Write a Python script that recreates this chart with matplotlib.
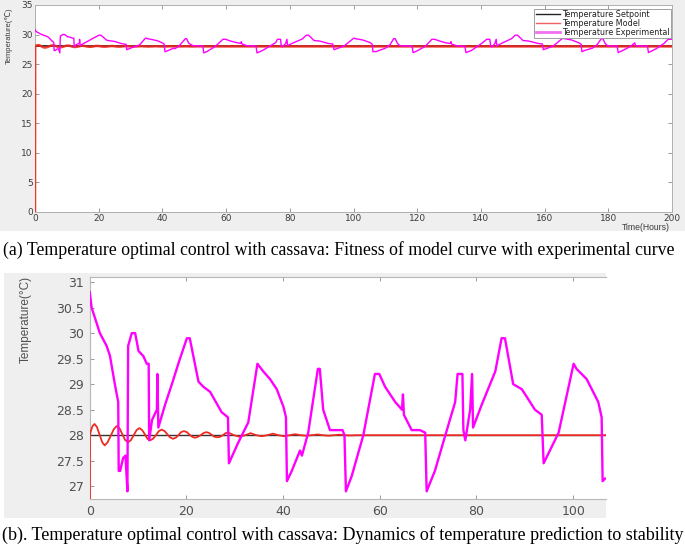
import matplotlib
matplotlib.use("Agg")
import matplotlib.pyplot as plt
from matplotlib.patches import Rectangle

# ---------------- data ----------------
setpoint_t = [0.0, 200.0]
setpoint_v = [28.0, 28.0]

model_t = [0.0, 0.05, 0.3, 0.6, 1.0, 1.5, 2.05, 2.6, 3.1, 3.7, 4.35, 5.0, 5.6, 6.2, 6.75, 7.3,
           7.9, 8.5, 9.1, 9.7, 10.3, 10.85, 11.4, 11.95, 12.5, 13.1, 13.7, 14.3, 14.9, 15.5,
           16.05, 16.6, 17.2, 17.8, 18.35, 18.9, 19.5, 20.1, 20.65, 21.2, 21.8, 22.4, 22.95,
           23.5, 24.1, 24.7, 25.25, 25.8, 26.4, 27.0, 27.55, 28.1, 28.7, 29.85, 31.0, 32.15,
           33.3, 34.45, 35.6, 36.75, 37.9, 39.05, 40.2, 41.35, 42.5, 43.65, 44.8, 45.95, 47.1,
           48.25, 49.4, 50.55, 51.7, 52.85, 54.0, 55.0, 200.0]
model_v = [0.0, 28.0, 28.1, 28.18, 28.22, 28.16, 28.01, 27.86, 27.80, 27.86, 27.99, 28.12, 28.18,
           28.13, 28.02, 27.91, 27.86, 27.90, 28.0, 28.1, 28.14, 28.1, 28.02, 27.93, 27.90, 27.93,
           28.0, 28.08, 28.11, 28.08, 28.02, 27.96, 27.93, 27.95, 28.0, 28.06, 28.08, 28.06, 28.01,
           27.97, 27.95, 27.97, 28.0, 28.04, 28.06, 28.045, 28.005, 27.97, 27.96, 27.97, 28.0,
           28.04, 28.05, 28.0, 27.97, 28.0, 28.04, 28.0, 27.98, 28.0, 28.03, 28.0, 27.98, 28.0,
           28.02, 28.0, 27.99, 28.0, 28.015, 28.0, 27.99, 28.0, 28.01, 28.0, 27.995, 28.0, 28.0]

# experimental curve, first 107 hours (both panels)
exp_t = [0.0, 0.4, 2.1, 3.5, 4.2, 5.2, 5.9, 6.0, 6.3, 6.9,
         7.4, 7.8, 7.95, 8.7, 9.4, 10.1, 11.1, 11.8, 12.2, 12.3,
         12.9, 13.9, 14.0, 14.2, 15.6, 17.0, 18.5, 20.1, 20.7, 22.5,
         23.5, 24.9, 27.3, 28.6, 28.8, 30.7, 32.8, 34.7, 35.1, 35.9,
         37.3, 38.7, 40.1, 40.6, 40.8, 41.8, 43.5, 43.9, 45.2, 47.2,
         47.6, 48.3, 49.7, 50.1, 52.3, 52.7, 53.0, 54.2, 56.6, 59.0,
         59.9, 61.1, 63.2, 64.6, 64.8, 65.0, 66.6, 68.3, 69.4, 69.7,
         71.4, 74.5, 75.6, 76.1, 77.1, 77.3, 77.7, 78.7, 79.1, 79.3,
         81.1, 83.9, 85.2, 85.9, 87.6, 89.4, 92.1, 93.5, 93.9, 97.0,
         100.1, 100.7, 102.8, 105.2, 105.9, 106.1, 106.6]
exp_v = [30.8, 30.5, 30.0, 29.75, 29.55, 29.0, 28.65, 27.3, 27.3, 27.55,
         27.6, 26.9, 29.75, 30.0, 30.0, 29.65, 29.55, 29.4, 29.4, 27.9,
         28.3, 28.5, 29.2, 28.15, 28.6, 29.0, 29.45, 29.9, 29.9, 29.05,
         28.95, 28.85, 28.45, 28.35, 27.45, 27.85, 28.25, 29.4, 29.35, 29.25,
         29.1, 28.9, 28.55, 28.35, 27.1, 27.3, 27.7, 27.6, 28.05, 29.3,
         29.3, 28.5, 28.1, 28.1, 28.1, 28.0, 26.9, 27.2, 28.0, 29.2,
         29.2, 28.95, 28.65, 28.5, 28.8, 28.4, 28.1, 28.1, 28.05, 26.9,
         27.3, 28.3, 28.65, 29.2, 29.2, 28.1, 27.9, 28.5, 29.2, 28.15,
         28.6, 29.25, 29.9, 29.9, 29.0, 28.9, 28.5, 28.4, 27.45, 28.05,
         29.4, 29.3, 29.1, 28.65, 28.35, 27.1, 27.15]

# experimental curve continuation, 107-200 hours (top panel only)
exp_ext_t = [107.0, 108.0, 110.0, 111.5, 112.6, 113.1, 113.8, 114.6, 118.4, 118.7,
             119.8, 122.5, 124.6, 125.5, 126.8, 129.0, 130.4, 130.6, 130.8, 132.4,
             135.0, 135.3, 137.0, 140.5, 141.8, 142.8, 143.1, 143.5, 144.4, 144.8,
             145.0, 146.8, 149.6, 150.8, 151.5, 153.2, 155.0, 158.0, 159.3, 159.6,
             162.7, 165.7, 166.3, 168.4, 170.8, 171.5, 171.7, 172.5, 175.0, 176.5,
             177.8, 178.3, 179.0, 179.8, 182.8, 183.1, 184.5, 187.0, 188.3, 188.6,
             192.3, 192.6, 195.0, 197.5, 198.8, 200.0]
exp_ext_v = [27.1, 27.3, 27.7, 28.3, 29.3, 29.3, 28.5, 28.1, 28.05, 26.95,
             27.2, 28.0, 29.2, 29.2, 28.95, 28.6, 28.5, 28.8, 28.4, 28.1,
             28.0, 26.95, 27.3, 28.6, 29.2, 29.2, 28.0, 27.9, 28.5, 29.2,
             28.1, 28.6, 29.3, 29.9, 29.9, 29.0, 28.9, 28.5, 28.4, 27.45,
             28.05, 29.4, 29.3, 29.1, 28.6, 28.35, 27.1, 27.3, 27.7, 28.3,
             29.3, 29.3, 28.5, 28.1, 28.05, 26.95, 27.3, 28.0, 28.6, 28.1,
             28.05, 26.95, 27.6, 28.5, 29.2, 29.2]

top_xticks = [0, 20, 40, 60, 80, 100, 120, 140, 160, 180, 200]
top_yticks = [0, 5, 10, 15, 20, 25, 30, 35]
bot_xticks = [0, 20, 40, 60, 80, 100]
bot_yticks = [27, 27.5, 28, 28.5, 29, 29.5, 30, 30.5, 31]
bot_yticklabels = ["27", "27.5", "28", "28.5", "29", "29.5", "30", "30.5", "31"]

legend_labels = ["Temperature Setpoint", "Temperature Model", "Temperature Experimental"]
caption_a = "(a) Temperature optimal control with cassava: Fitness of model curve with experimental curve"
caption_b = "(b). Temperature optimal control with cassava: Dynamics of temperature prediction to stability"

# ---------------- figure ----------------
W, H = 685, 547
fig = plt.figure(figsize=(W / 100, H / 100), dpi=100)
fig.patch.set_facecolor("white")

def fx(px):
    return px / W

def fy(py):
    return 1 - py / H

BG = "#efefef"
fig.patches.append(Rectangle((0, fy(231)), 1, 231 / H, transform=fig.transFigure,
                             facecolor=BG, edgecolor="none", zorder=-5))
fig.patches.append(Rectangle((fx(4), fy(518)), fx(606) - fx(4), (518 - 273) / H,
                             transform=fig.transFigure, facecolor=BG, edgecolor="none", zorder=-5))

TXT = "#3c3c3c"
SP = "#8a8a8a"
MAG = "#ff00ff"
RED = "#ee2b22"

# ---- top panel ----
ax1 = fig.add_axes([fx(35), fy(212), fx(672) - fx(35), (212 - 5) / H])
ax1.set_zorder(1)
ax1.set_facecolor("white")
ax1.plot(setpoint_t, setpoint_v, color="#111111", lw=1.2, zorder=2)
ax1.plot(model_t, model_v, color=RED, lw=1.8, zorder=3, alpha=0.9)
ax1.plot(exp_t + exp_ext_t, exp_v + exp_ext_v, color=MAG, lw=1.0, zorder=4)
ax1.set_xlim(0, 200)
ax1.set_ylim(0, 35)
ax1.set_xticks(top_xticks)
ax1.set_yticks(top_yticks)
ax1.tick_params(direction="in", length=3, width=0.6, colors=SP, labelcolor=TXT,
                labelsize=6.5, top=True, right=True, pad=1.5)
for s in ax1.spines.values():
    s.set_color("#b0b0b0")
    s.set_linewidth(0.7)

h1, = ax1.plot([], [], color="#222222", lw=1.0)
h2, = ax1.plot([], [], color="#f06060", lw=1.0)
h3, = ax1.plot([], [], color="#f070f0", lw=2.0)
leg = ax1.legend([h1, h2, h3], legend_labels, loc="upper right",
                 bbox_to_anchor=(fx(671), fy(9)), bbox_transform=fig.transFigure,
                 fontsize=5.8, handlelength=3.0, handletextpad=0.3, labelspacing=0.0,
                 borderpad=0.15, fancybox=False, framealpha=1, borderaxespad=0)
leg.get_frame().set_edgecolor("#909090")
leg.get_frame().set_linewidth(0.6)
for t in leg.get_texts():
    t.set_color("#222222")

fig.text(fx(9), fy(36), "Temperature(℃)", rotation=90, ha="center", va="center",
         fontsize=5.5, color=TXT, family=["Liberation Sans", "DejaVu Sans"])
fig.text(fx(646), fy(227.8), "Time(Hours)", ha="center", va="center",
         fontsize=6.2, color=TXT, family=["Liberation Sans"])

# ---- bottom panel ----
ax2 = fig.add_axes([fx(89.7), fy(499), fx(606) - fx(89.7), (499 - 277) / H])
ax2.set_zorder(1)
ax2.set_facecolor("white")
ax2.plot(setpoint_t, setpoint_v, color="#333333", lw=1.0, zorder=2)
ax2.plot(model_t, model_v, color=RED, lw=1.3, zorder=3)
ax2.plot(exp_t, exp_v, color=MAG, lw=1.7, zorder=4)
ax2.set_xlim(0, 106.8)
ax2.set_ylim(26.75, 31.1)
ax2.set_xticks(bot_xticks)
ax2.set_yticks(bot_yticks)
ax2.set_yticklabels(bot_yticklabels)
ax2.tick_params(direction="in", length=3, width=0.6, colors=SP, labelcolor="#505050",
                labelsize=9, top=True, right=False, pad=4)
ax2.spines["right"].set_visible(False)
for k in ("left", "top", "bottom"):
    ax2.spines[k].set_color("#b8b8b8")
    ax2.spines[k].set_linewidth(0.8)

fig.text(fx(26), fy(319), "Temperature(°C)", rotation=90, ha="center", va="center",
         fontsize=8.5, color="#505050", family=["Liberation Sans", "DejaVu Sans"])

# ---- captions ----
fig.text(fx(339), fy(250), caption_a, ha="center", va="center",
         fontsize=12.8, family=["Liberation Serif"], color="black")
fig.text(fx(343), fy(535), caption_b, ha="center", va="center",
         fontsize=13.0, family=["Liberation Serif"], color="black")

fig.savefig("out.png", dpi=100, facecolor="white")
